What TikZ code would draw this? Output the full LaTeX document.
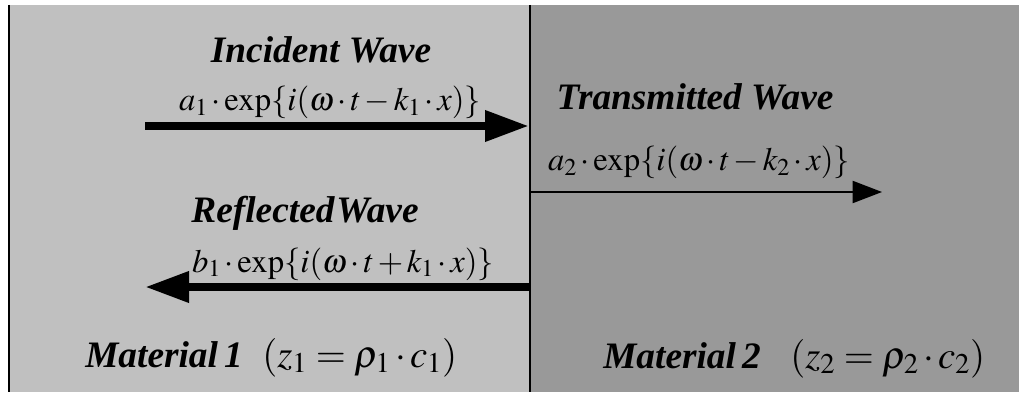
\documentclass[tikz,border=0pt]{standalone}
\usepackage{mathptmx}
\usepackage[no-math]{fontspec}
\setmainfont{Liberation Serif}
\usetikzlibrary{arrows.meta,positioning}
\definecolor{mat1}{HTML}{C0C0C0}
\definecolor{mat2}{HTML}{999999}
\newcommand\tightops{\medmuskip=2mu\relax}
\tikzset{
  wavelabel/.style={font=\fontsize{28}{30}\selectfont\bfseries\itshape,anchor=base,inner sep=0pt},
  formula/.style={font=\fontsize{24.5}{27}\selectfont,execute at begin node=\tightops,anchor=base,inner sep=0pt},
  impedance/.style={formula,font=\fontsize{29}{31}\selectfont,anchor=base west},
  thickarrow/.style={line width=6.5pt,-{Triangle[length=33pt,width=22pt]}},
  thinarrow/.style={line width=1.5pt,-{Triangle[length=22pt,width=16.5pt]}},
}

\begin{document}
\begin{tikzpicture}[x=0.75pt,y=-0.75pt]
\useasboundingbox (0,0) rectangle (1019,392);
% materials
\fill[mat1] (9,5) rectangle (530,392);
\fill[mat2] (530,5) rectangle (1019,392);
\draw[line width=2.2pt] (9,5) -- (9,392);
\draw[line width=2.2pt] (530,5) -- (530,392);

\coordinate (inL) at (145,126);
\coordinate (inR) at (529,126);
\coordinate (reL) at (145,287);
\coordinate (reR) at (529,287);
\coordinate (trL) at (531,192);
\coordinate (trR) at (882,192);

% incident
\node[wavelabel] (inc) at (321,63) {Incident Wave};
\node[formula] (incf) at (330,111) {$a_1\cdot\exp\{i(\omega\cdot t-k_1\cdot x)\}$};
\draw[thickarrow] (inL) -- (inR);

% transmitted
\node[wavelabel] (tra) at (695,110) {Transmitted Wave};
\node[formula] (traf) at (699,171) {$a_2\cdot\exp\{i(\omega\cdot t-k_2\cdot x)\}$};
\draw[thinarrow] (trL) -- (trR);

% reflected
\node[wavelabel] (ref) at (305,222) {Reflected\kern0.05em Wave};
\node[formula] (reff) at (343,272) {$b_1\cdot\exp\{i(\omega\cdot t+k_1\cdot x)\}$};
\draw[thickarrow] (reR) -- (reL);

% labels
\node[wavelabel,anchor=base west] (m1) at (85,367) {Material\,1};
\node[impedance] (z1) at (262,367) {$(z_1=\rho_1\cdot c_1)$};
\node[wavelabel,anchor=base west] (m2) at (603,368) {Material\,2};
\node[impedance] (z2) at (790,368) {$(z_2=\rho_2\cdot c_2)$};
\end{tikzpicture}
\end{document}
